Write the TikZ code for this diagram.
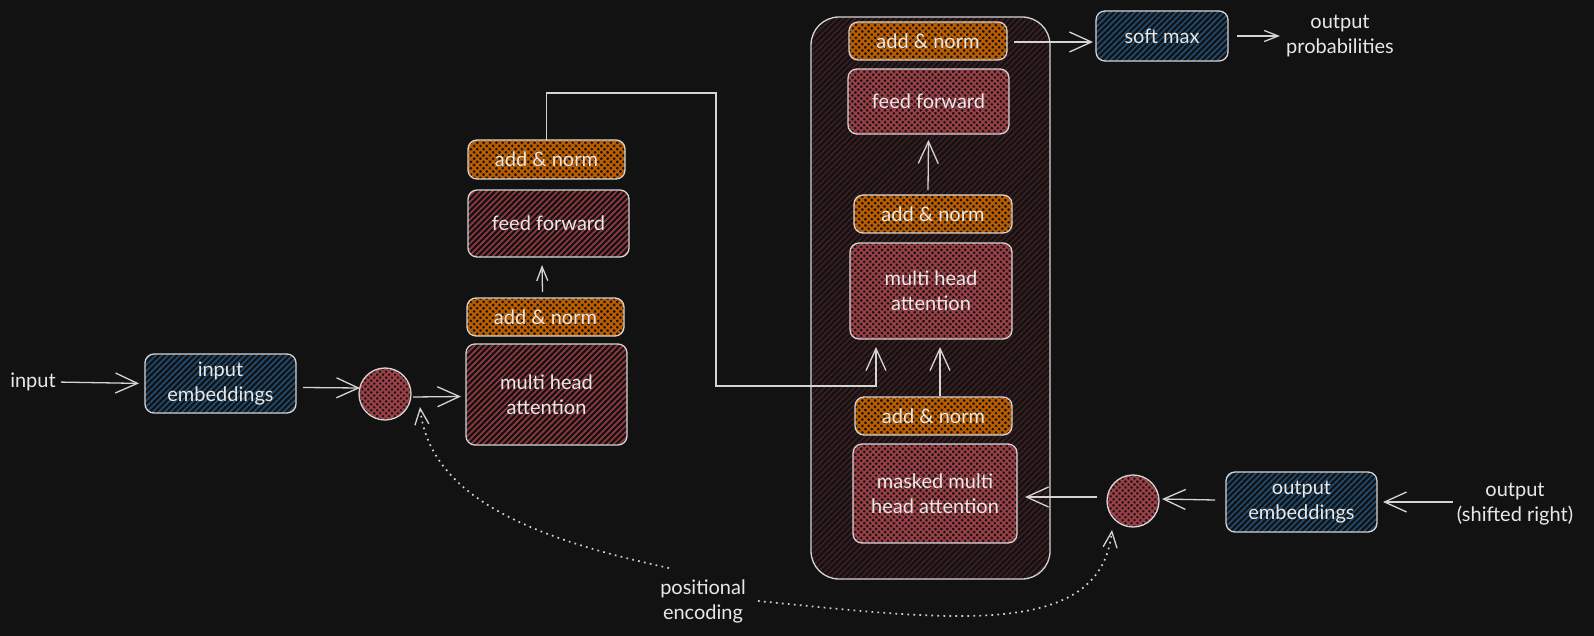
\documentclass[tikz,border=0pt]{standalone}
\usepackage{fontspec}
\setmainfont{Lato}
\usetikzlibrary{arrows.meta,patterns.meta}
\definecolor{bg}{HTML}{121212}
\definecolor{ink}{HTML}{D4D4D4}
\definecolor{txt}{HTML}{E8E8E8}
\definecolor{blueh}{HTML}{1F4C72}
\definecolor{redh}{HTML}{94383F}
\definecolor{redx}{HTML}{9C4047}
\definecolor{orgx}{HTML}{BD5E00}
\definecolor{conth}{HTML}{3E1E20}
\tikzset{
 basebox/.style={draw=ink, line width=1.3pt, rounded corners=9pt, text=txt, font=\fontsize{20}{25}\selectfont, align=center, inner sep=0pt, outer sep=0pt},
 bluebox/.style={basebox, preaction={fill=bg}, pattern={Lines[angle=45,distance=4.2pt,line width=1.7pt]}, pattern color=blueh},
 encred/.style={basebox, preaction={fill=bg}, pattern={Lines[angle=45,distance=4.2pt,line width=1.7pt]}, pattern color=redh},
 decred/.style={basebox, preaction={fill=bg}, pattern={Hatch[angle=45,distance=4.2pt,line width=1.8pt]}, pattern color=redx},
 orgbox/.style={basebox, preaction={fill=bg}, pattern={Hatch[angle=45,distance=4.5pt,line width=2.1pt]}, pattern color=orgx},
 contbox/.style={draw=ink, line width=1.3pt, rounded corners=28pt, preaction={fill=bg}, pattern={Lines[angle=45,distance=4.2pt,line width=1.7pt]}, pattern color=conth, inner sep=0pt, outer sep=0pt},
 dotc/.style={circle, draw=ink, line width=1.3pt, preaction={fill=bg}, pattern={Hatch[angle=45,distance=4.2pt,line width=2pt]}, pattern color=redx, minimum size=52pt, inner sep=0pt, outer sep=0pt},
 lbl/.style={text=txt, font=\fontsize{20}{25}\selectfont, align=center, inner sep=0pt},
 arr/.style={draw=ink, line width=1.3pt, -{Straight Barb[length=22pt,width=20pt]}},
 arrs/.style={draw=ink, line width=1.3pt, -{Straight Barb[length=14pt,width=11pt]}},
 dotarr/.style={draw=ink, line width=1.7pt, dash pattern=on 1.7pt off 4.3pt, -{Straight Barb[length=16pt,width=14pt,line width=1.3pt]}},
}
\begin{document}
\begin{tikzpicture}[x=1pt,y=-1pt]
\useasboundingbox (0,0) rectangle (1594,636);
\fill[bg] (0,0) rectangle (1594,636);

% encoder side
\node[lbl] (inp) at (33,382) {input};
\node[bluebox, minimum width=151pt, minimum height=59pt] (inemb) at (220.5,383.5) {input\\embeddings};
\node[dotc] (c1) at (385,394) {};
\node[encred, minimum width=161pt, minimum height=101pt] (encmha) at (546.5,394.5) {multi head\\attention};
\node[orgbox, minimum width=157pt, minimum height=38pt] (encan1) at (545.5,317) {add \& norm};
\node[encred, minimum width=161pt, minimum height=67pt] (encff) at (548.5,223.5) {feed forward};
\node[orgbox, minimum width=157pt, minimum height=39pt] (encan2) at (546.5,159.5) {add \& norm};

% decoder side
\node[contbox, minimum width=239pt, minimum height=562pt] (dec) at (930.5,298) {};
\node[orgbox, minimum width=158pt, minimum height=38pt] (decan3) at (928,41) {add \& norm};
\node[decred, minimum width=161pt, minimum height=65pt] (decff) at (928.5,101.5) {feed forward};
\node[orgbox, minimum width=158pt, minimum height=38pt] (decan2) at (933,214) {add \& norm};
\node[decred, minimum width=162pt, minimum height=96pt] (decmha) at (931,291) {multi head\\attention};
\node[orgbox, minimum width=157pt, minimum height=38pt] (decan1) at (933.5,416) {add \& norm};
\node[decred, minimum width=164pt, minimum height=99pt] (masked) at (935,493.5) {masked multi\\head attention};
\node[dotc] (c2) at (1133,501) {};
\node[bluebox, minimum width=151pt, minimum height=60pt] (outemb) at (1301.5,502) {output\\embeddings};
\node[lbl] (outtxt) at (1515,504) {output\\(shifted right)};
\node[bluebox, minimum width=132pt, minimum height=50pt] (softmax) at (1162,36) {soft max};
\node[lbl] (prob) at (1340,36) {output\\probabilities};
\node[lbl] (posenc) at (703,601) {positional\\encoding};

% connectors
\draw[arr, shorten <=5pt, shorten >=6pt] (inp.east) -- (inemb.west);
\draw[arr] ([shift={(7,4)}]inemb.east) -- ([shift={(1,-6)}]c1.west);
\draw[arr] ([shift={(2,3)}]c1.east) -- ([shift={(-5,2)}]encmha.west);
\draw[arrs] ([shift={(-3,-6)}]encan1.north) -- ([shift={(-6.5,8)}]encff.south);
\coordinate (k1) at (716,93);
\coordinate (k2) at (716,386);
\draw[arr] (encan2.north) |- (k1) -- (k2) -| ([shift={(-55,8)}]decmha.south);
\draw[arr] ([shift={(6.5,-1)}]decan1.north) -- ([shift={(9,8)}]decmha.south);
\draw[arr] ([shift={(-5,-5)}]decan2.north) -- ([shift={(0,6)}]decff.south);
\draw[arr] ([shift={(7,1)}]decan3.east) -- ([shift={(-3,6)}]softmax.west);
\draw[arrs, shorten <=9pt, shorten >=6pt] (softmax.east) -- (prob.west |- softmax.east);
\draw[arr] ([shift={(-11,-2)}]outemb.west) -- ([shift={(3,-2)}]c2.east);
\draw[arr] ([shift={(-10,-4)}]c2.west) -- ([shift={(8,3.5)}]masked.east);
\draw[arr, shorten <=4pt] (outtxt.west |- outemb.east) -- ([shift={(6,0)}]outemb.east);
\draw[dotarr] ([shift={(-34,-33)}]posenc.center) .. controls (540,540) and (430,500) .. ([shift={(35,13)}]c1.center);
\draw[dotarr] ([shift={(55,0)}]posenc.center) .. controls (950,620) and (1100,640) .. ([shift={(-21,29)}]c2.center);
\end{tikzpicture}
\end{document}
